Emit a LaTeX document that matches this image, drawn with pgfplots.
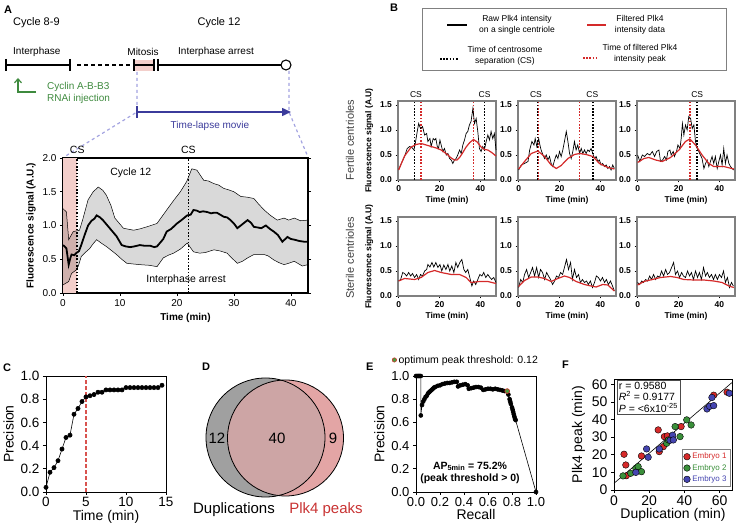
\documentclass[border=0pt]{standalone}
\usepackage{fontspec}
\setmainfont{Liberation Sans}
\usepackage{pgfplots}
\pgfplotsset{compat=1.18}
\usetikzlibrary{arrows.meta}
\definecolor{apink}{HTML}{F3CFCB}
\definecolor{lav}{HTML}{A3A3E0}
\definecolor{ablue}{HTML}{3B3B9B}
\definecolor{agreen}{HTML}{3E8A3E}
\definecolor{bred}{HTML}{D42A2A}
\definecolor{cred}{HTML}{D9534F}
\definecolor{vgrey}{HTML}{A0A0A0}
\definecolor{vpink}{HTML}{E3A5A5}
\definecolor{vover}{HTML}{CDA5A5}
\definecolor{dred}{HTML}{C83232}
\definecolor{fred}{HTML}{D62A2A}
\definecolor{fgreen}{HTML}{3A8F3A}
\definecolor{fblue}{HTML}{4545B0}
\definecolor{optgreen}{HTML}{4E9A3E}
\newcommand{\fs}[2]{\fontsize{#1}{#2}\selectfont}
\tikzset{
  bdotk/.style={black, line width=1.6pt, dash pattern=on 1.6pt off 1.6pt},
  bdotr/.style={bred, line width=1.6pt, dash pattern=on 1.6pt off 1.6pt},
  braw/.style={black, line width=0.7pt},
  bfil/.style={bred, line width=1.2pt},
  csl/.style={font=\fs{8.5}{10}, anchor=south, inner sep=0pt, yshift=3pt},
}
\pgfplotsset{
  /pgf/number format/assume math mode=true,
  onedec/.style={yticklabel style={/pgf/number format/fixed,/pgf/number format/fixed zerofill,/pgf/number format/precision=1}},
  bplot/.style={scale only axis, anchor=south west, width=98pt, height=79pt,
    xmin=-0.3, xmax=47.6, ymin=0, ymax=1.58, xtick={0,20,40}, ytick={0,0.5,1,1.5},
    tick pos=left, tick align=outside, major tick length=2.5pt,
    axis line style={draw=gray, line width=1.3pt}, tick style={black, line width=0.8pt},
    ticklabel style={font=\bfseries\fs{8.5}{10}}, onedec,
    xlabel={Time (min)}, label style={font=\bfseries\fs{8.5}{10}},
    xlabel style={yshift=3pt}, clip=false},
  bigplot/.style={scale only axis, anchor=south west, tick pos=left, tick align=outside,
    major tick length=3pt, axis line style={line width=0.8pt}, tick style={black, line width=0.7pt},
    ticklabel style={font=\fs{13.5}{15}}, label style={font=\fs{14}{16}},
    xlabel style={yshift=4pt}, xticklabel style={yshift=1pt}, clip=false},
}
\begin{document}
\begin{tikzpicture}[x=1pt,y=1pt]
\useasboundingbox (0,0) rectangle (737,-526);
% ---------------- Panel A schematic
\node[anchor=west,inner sep=0,font=\bfseries\fs{11}{13}] at (4,-10) {A};
\node[anchor=west,inner sep=0,font=\fs{11}{13}] at (13,-23) {Cycle 8-9};
\node[inner sep=0,font=\fs{11}{13}] at (219,-23) {Cycle 12};
\node[anchor=west,inner sep=0,font=\fs{10}{12}] at (13,-52) {Interphase};
\node[inner sep=0,font=\fs{10}{12}] at (143,-52) {Mitosis};
\node[anchor=west,inner sep=0,font=\fs{10}{12}] at (178,-52) {Interphase arrest};
\fill[apink] (134,-60) rectangle (154,-71);
\draw[line width=1.1pt] (6,-65)--(70,-65) (6,-59)--(6,-71) (70,-59)--(70,-71);
\draw[line width=1.1pt, dash pattern=on 4pt off 3pt] (77,-65)--(132,-65);
\draw[line width=1.1pt] (134,-59)--(134,-71) (134,-65)--(154,-65) (154,-59)--(154,-71) (158,-59)--(158,-71) (158,-65)--(281,-65);
\draw[line width=1.1pt, fill=white] (286,-65) circle (5);
\draw[lav, line width=1.2pt, dash pattern=on 3pt off 3pt] (137,-72)--(137,-112)--(64,-157);
\draw[lav, line width=1.2pt, dash pattern=on 3pt off 3pt] (289,-71)--(289,-112)--(308,-157);
\draw[ablue, line width=1.5pt] (137,-106)--(137,-118);
\draw[ablue, line width=1.5pt, -{Triangle[length=9pt,width=8pt]}] (137,-112)--(291,-112);
\node[ablue,inner sep=0,font=\fs{10}{12}] at (210,-126) {Time-lapse movie};
\draw[agreen, line width=1.2pt, -{Straight Barb[length=4pt,width=7pt]}] (36,-92)--(18,-92)--(18,-78);
\node[agreen, anchor=west, inner sep=0, font=\fs{10}{12}] at (47,-87) {Cyclin A-B-B3};
\node[agreen, anchor=west, inner sep=0, font=\fs{10}{12}] at (47,-99) {RNAi injection};
% ---------------- Panel A plot
\begin{axis}[at={(63pt,-293pt)}, anchor=south west, scale only axis, width=245pt, height=135pt,
  xmin=0, xmax=43, ymin=0, ymax=2, xtick={0,10,20,30,40}, ytick={0,0.5,1,1.5,2},
  xtick pos=left, ytick pos=both, yticklabel pos=left, tick align=outside, major tick length=3pt,
  axis line style={line width=1.1pt}, tick style={black, line width=0.8pt},
  ticklabel style={font=\fs{10}{12}}, onedec,
  xlabel={Time (min)}, ylabel={Fluorescence signal (A.U.)},
  label style={font=\bfseries\fs{10}{12}}, clip=false]
\addplot[draw=none, fill=apink] coordinates {(0,0) (2.5,0) (2.5,2) (0,2)} --cycle;
\addplot[draw=none, fill=black, fill opacity=0.15] coordinates {
(0,1.25) (0.6,1.2) (1,0.79) (1.8,0.91) (2.9,0.93) (3.5,1.1) (4.4,1.38) (5.3,1.5) (6.2,1.57) (7,1.52) (7.6,1.45) (8.4,1.3) (9.1,1.11) (10.6,0.96) (12.4,0.93) (13.5,0.95) (14.7,0.98) (16.5,1.03) (18.2,1.23) (19.5,1.38) (20.6,1.5) (21.7,1.65) (22.6,1.84) (23.5,1.82) (24.7,1.67) (25.5,1.66) (26.5,1.62) (27.3,1.6) (28.2,1.55) (29,1.53) (30,1.5) (31.2,1.43) (32.3,1.42) (33.5,1.4) (34.3,1.32) (35.3,1.23) (36.4,1.15) (37.6,1.08) (38.8,1.11) (39.6,1.08) (40.6,1.11) (41.7,1.07) (43,1.08)
(43,0.42) (42,0.4) (40.6,0.47) (39.6,0.44) (38.8,0.42) (37.9,0.45) (37,0.49) (36,0.55) (35.3,0.57) (33.5,0.57) (32.4,0.52) (31.5,0.47) (30.6,0.44) (29.6,0.52) (28.8,0.59) (27.7,0.62) (26.5,0.64) (25,0.6) (24,0.59) (22.9,0.61) (21.8,0.74) (20.6,0.65) (19.4,0.59) (18.5,0.56) (17.6,0.52) (16.5,0.39) (15.2,0.41) (13.5,0.42) (12.3,0.43) (11.2,0.44) (10.3,0.5) (9.4,0.57) (8.5,0.63) (7.6,0.69) (6.7,0.74) (5.9,0.79) (5.2,0.72) (4.7,0.66) (3.9,0.6) (3.2,0.54) (2.7,0.4) (2.3,0.34) (1.5,0.29) (1,0.17) (0.6,0.15) (0,0.12)} --cycle;
\addplot[black, line width=0.5pt] coordinates {
(0,1.25) (0.6,1.2) (1,0.79) (1.8,0.91) (2.9,0.93) (3.5,1.1) (4.4,1.38) (5.3,1.5) (6.2,1.57) (7,1.52) (7.6,1.45) (8.4,1.3) (9.1,1.11) (10.6,0.96) (12.4,0.93) (13.5,0.95) (14.7,0.98) (16.5,1.03) (18.2,1.23) (19.5,1.38) (20.6,1.5) (21.7,1.65) (22.6,1.84) (23.5,1.82) (24.7,1.67) (25.5,1.66) (26.5,1.62) (27.3,1.6) (28.2,1.55) (29,1.53) (30,1.5) (31.2,1.43) (32.3,1.42) (33.5,1.4) (34.3,1.32) (35.3,1.23) (36.4,1.15) (37.6,1.08) (38.8,1.11) (39.6,1.08) (40.6,1.11) (41.7,1.07) (43,1.08)};
\addplot[black, line width=0.5pt] coordinates {
(43,0.42) (42,0.4) (40.6,0.47) (39.6,0.44) (38.8,0.42) (37.9,0.45) (37,0.49) (36,0.55) (35.3,0.57) (33.5,0.57) (32.4,0.52) (31.5,0.47) (30.6,0.44) (29.6,0.52) (28.8,0.59) (27.7,0.62) (26.5,0.64) (25,0.6) (24,0.59) (22.9,0.61) (21.8,0.74) (20.6,0.65) (19.4,0.59) (18.5,0.56) (17.6,0.52) (16.5,0.39) (15.2,0.41) (13.5,0.42) (12.3,0.43) (11.2,0.44) (10.3,0.5) (9.4,0.57) (8.5,0.63) (7.6,0.69) (6.7,0.74) (5.9,0.79) (5.2,0.72) (4.7,0.66) (3.9,0.6) (3.2,0.54) (2.7,0.4) (2.3,0.34) (1.5,0.29) (1,0.17) (0.6,0.15) (0,0.12)};
\addplot[black, line width=1.8pt] coordinates {
(0,0.71) (0.4,0.68) (0.6,0.66) (1,0.42) (1.3,0.52) (1.5,0.57) (2,0.56) (2.3,0.59) (2.8,0.62) (3.2,0.71) (3.8,0.86) (4.4,1) (5,1.07) (5.5,1.1) (5.9,1.15) (6.5,1.12) (7,1.08) (7.6,1.02) (8.2,0.96) (8.8,0.9) (9.4,0.84) (10.3,0.71) (11,0.69) (11.8,0.68) (12.5,0.69) (13.5,0.71) (14.3,0.7) (15.3,0.7) (16,0.68) (16.5,0.69) (17,0.74) (17.6,0.8) (18.2,0.91) (19,0.95) (20,1.03) (20.8,1.08) (21.8,1.15) (22.4,1.16) (22.9,1.23) (23.5,1.22) (24,1.2) (24.6,1.21) (25.3,1.2) (26,1.18) (26.5,1.19) (27,1.19) (27.6,1.16) (28.2,1.13) (28.8,1.12) (29.4,1.08) (30,1.03) (30.6,0.96) (31.2,1) (31.8,1.04) (32.4,1.08) (33,1.04) (33.5,0.98) (34.2,0.97) (34.8,0.96) (35.6,1) (36.3,0.95) (37,0.91) (37.7,0.86) (38.5,0.76) (39.4,0.83) (40,0.8) (40.6,0.79) (41.5,0.77) (42.3,0.76) (43,0.76)};
\addplot[black, line width=1.5pt, dash pattern=on 1.5pt off 1.8pt] coordinates {(2.5,0) (2.5,2)};
\addplot[black, line width=1.5pt, dash pattern=on 1.5pt off 1.8pt] coordinates {(22,0) (22,2)};
\node[font=\fs{10.5}{12}, anchor=south, inner sep=0pt, yshift=4pt] at (axis cs:2.5,2) {CS};
\node[font=\fs{10.5}{12}, anchor=south, inner sep=0pt, yshift=4pt] at (axis cs:22,2) {CS};
\node[font=\fs{10.5}{12}] at (axis cs:11.9,1.78) {Cycle 12};
\node[font=\fs{10.5}{12}] at (axis cs:21.6,0.19) {Interphase arrest};
\end{axis}
% ---------------- Panel B legend
\node[anchor=west,inner sep=0,font=\bfseries\fs{11}{13}] at (390,-8) {B};
\draw[gray, line width=0.8pt] (422,-8) rectangle (726,-70);
\draw[black, line width=1.3pt] (447,-25)--(467,-25);
\node[align=center, inner sep=0, font=\fs{8.5}{10.5}] at (517,-25) {Raw Plk4 intensity\\on a single centriole};
\draw[bred, line width=1.3pt] (587,-25)--(606,-25);
\node[align=center, inner sep=0, font=\fs{8.5}{10.5}] at (640,-25) {Filtered Plk4\\intensity data};
\draw[bdotk] (440,-59)--(459,-59);
\node[align=center, inner sep=0, font=\fs{8.5}{10.5}] at (505,-56) {Time of centrosome\\separation (CS)};
\draw[bdotr] (583,-58)--(598,-58);
\node[align=center, inner sep=0, font=\fs{8.5}{10.5}] at (640,-54) {Time of filtered Plk4\\intensity peak};
\node[rotate=90, font=\fs{11}{13}, text=black!75] at (350,-140) {Fertile centrioles};
\node[rotate=90, font=\fs{11}{13}, text=black!75] at (350,-258) {Sterile centrioles};
% B1
\begin{axis}[bplot, at={(398pt,-180pt)}, ylabel={Fluorescence signal (A.U)}]
\addplot[bdotk] coordinates {(7.8,0) (7.8,1.58)};
\addplot[bdotk] coordinates {(42,0) (42,1.58)};
\addplot[bdotr] coordinates {(11,0) (11,1.58)};
\addplot[bdotr] coordinates {(36.6,0) (36.6,1.58)};
\addplot[braw] coordinates {(0,0.2)(1.3,0.33)(2.9,0.47)(4.2,0.63)(5.4,0.67)(6.5,0.65)(7.5,0.6)(8.3,0.77)(9.1,0.97)(9.8,1.13)(10.7,1.03)(11.7,1.07)(12.7,0.9)(13.7,0.93)(14.3,0.77)(15.3,0.83)(15.9,0.67)(16.9,0.83)(17.6,0.8)(18.2,0.83)(18.9,0.67)(19.5,0.63)(20.2,0.8)(20.8,0.7)(21.6,0.57)(22.4,0.63)(23.3,0.5)(24.1,0.53)(24.9,0.43)(25.7,0.4)(26.5,0.33)(27.3,0.4)(28.1,0.43)(28.9,0.5)(29.8,0.6)(30.6,0.53)(31.4,0.7)(32.2,0.8)(33,0.93)(33.8,0.97)(34.6,1.1)(35.4,1.17)(36.3,1.43)(37.1,1.13)(37.9,1.23)(38.7,0.97)(39.5,0.63)(40.3,0.57)(41.1,0.67)(41.9,0.6)(42.8,0.77)(43.6,0.9)(44.4,0.8)(45.2,0.97)(46,0.83)(46.8,0.93)(47.6,0.6)};
\addplot[bfil] coordinates {(0,0.2)(2.9,0.48)(6.2,0.66)(8.5,0.71)(11,0.73)(13.5,0.7)(15.9,0.67)(18.4,0.64)(20.8,0.6)(22.5,0.55)(24.1,0.5)(25.7,0.44)(27.3,0.4)(28.5,0.4)(29.8,0.45)(31.4,0.55)(33,0.66)(34.8,0.75)(36.6,0.81)(38.4,0.76)(40.3,0.66)(42,0.61)(43.6,0.6)(45.5,0.55)(47.6,0.48)};
\node[csl] at (axis cs:8.5,1.58) {CS};
\node[csl] at (axis cs:42,1.58) {CS};
\end{axis}
% B2
\begin{axis}[bplot, at={(518pt,-180pt)}]
\addplot[bdotk] coordinates {(9.2,0) (9.2,1.58)};
\addplot[bdotk] coordinates {(36.3,0) (36.3,1.58)};
\addplot[bdotr] coordinates {(9.8,0) (9.8,1.58)};
\addplot[bdotr] coordinates {(29.8,0) (29.8,1.58)};
\addplot[braw] coordinates {(0,0.2)(1.3,0.3)(2.9,0.33)(4.6,0.37)(5.4,0.6)(6.5,0.77)(7.5,0.7)(8.1,0.83)(8.9,0.67)(9.8,0.83)(10.4,0.7)(11,0.6)(11.9,0.5)(12.7,0.43)(13.5,0.5)(14.3,0.4)(15.1,0.47)(15.9,0.33)(16.7,0.27)(17.6,0.4)(18.4,0.5)(19.2,0.43)(20,0.57)(20.8,0.47)(21.6,0.6)(22.4,0.77)(23.3,0.97)(24.1,0.77)(24.9,0.53)(25.7,0.43)(26.5,0.57)(27.3,0.77)(28.1,0.6)(28.9,0.7)(29.8,0.53)(30.6,0.63)(31.4,0.53)(32.2,0.6)(33,0.53)(33.8,0.6)(34.6,0.57)(35.4,0.63)(36.3,0.53)(37.1,0.43)(37.9,0.47)(38.7,0.37)(39.5,0.4)(40.3,0.3)(41.1,0.33)(41.9,0.27)(42.8,0.3)(43.6,0.23)(44.4,0.27)(45.2,0.2)(46,0.3)(46.8,0.23)};
\addplot[bfil] coordinates {(0,0.22)(2.9,0.37)(6.2,0.53)(9.4,0.58)(12.7,0.47)(15.9,0.3)(18.4,0.23)(20.8,0.29)(24.1,0.43)(27.3,0.51)(29.8,0.53)(33,0.51)(36.3,0.47)(39.5,0.33)(43.6,0.25)(46.8,0.22)};
\node[csl] at (axis cs:8.5,1.58) {CS};
\node[csl] at (axis cs:36,1.58) {CS};
\end{axis}
% B3
\begin{axis}[bplot, at={(637pt,-180pt)}]
\addplot[bdotk] coordinates {(29.1,0) (29.1,1.58)};
\addplot[bdotr] coordinates {(25.5,0) (25.5,1.58)};
\addplot[braw] coordinates {(0,0.5)(1.1,0.37)(2.3,0.5)(3.4,0.47)(4.7,0.53)(6,0.5)(7.2,0.57)(8.3,0.47)(9.3,0.57)(10.4,0.6)(11.2,0.37)(12.2,0.4)(13.2,0.47)(14.1,0.4)(14.8,0.57)(15.8,0.6)(16.4,0.5)(17.4,0.57)(18,0.47)(19,0.57)(19.7,0.7)(20.7,0.63)(21.3,0.83)(21.9,1.13)(22.6,0.9)(23.4,1.1)(24.2,1)(25,1.27)(25.9,1.23)(26.7,1.03)(27.5,1.1)(28.3,0.77)(29.1,0.63)(29.9,0.57)(30.7,0.5)(31.5,0.43)(32.4,0.23)(33.2,0.33)(34,0.4)(34.8,0.27)(35.6,0.37)(36.4,0.47)(37.2,0.33)(38,0.47)(38.9,0.23)(39.7,0.37)(40.5,0.5)(41.3,0.3)(42.1,0.63)(42.9,0.33)(43.7,0.5)(44.6,0.33)(45.4,0.27)(46.2,0.23)(47,0.2)};
\addplot[bfil] coordinates {(0,0.35)(3.1,0.43)(5.5,0.45)(8.8,0.4)(12,0.37)(16.1,0.45)(20.2,0.6)(23.4,0.77)(25.5,0.82)(28.3,0.7)(31.5,0.5)(34.8,0.33)(37.2,0.27)(42.1,0.27)(47,0.22)};
\node[csl] at (axis cs:29.1,1.58) {CS};
\end{axis}
% B4
\begin{axis}[bplot, at={(398pt,-296pt)}, ylabel={Fluorescence signal (A.U)}]
\addplot[braw] coordinates {(0,0.3)(1,0.33)(2,0.47)(2.9,0.45)(3.9,0.4)(4.9,0.47)(5.9,0.4)(6.8,0.45)(7.8,0.37)(8.8,0.43)(9.8,0.33)(10.7,0.43)(11.7,0.4)(12.7,0.5)(13.7,0.53)(14.3,0.63)(15.3,0.58)(16.3,0.67)(17.2,0.58)(18.2,0.67)(19.2,0.57)(20.2,0.63)(21.1,0.5)(22.1,0.62)(23.1,0.53)(24.1,0.63)(25,0.5)(26,0.6)(27,0.47)(28,0.67)(28.9,0.57)(29.9,0.67)(30.9,0.73)(31.9,0.53)(32.8,0.47)(33.8,0.53)(34.8,0.37)(35.8,0.2)(36.7,0.3)(37.7,0.23)(38.7,0.33)(39.7,0.43)(40.7,0.4)(41.6,0.47)(42.6,0.37)(43.6,0.43)(44.6,0.37)(45.5,0.33)(46.5,0.37)(47.6,0.27)};
\addplot[bfil] coordinates {(0,0.3)(2.9,0.35)(7.8,0.33)(11,0.37)(14.3,0.47)(17.6,0.51)(20.8,0.47)(25.7,0.43)(29.8,0.43)(33,0.37)(35.4,0.27)(39.5,0.29)(43.6,0.29)(47.6,0.25)};
\end{axis}
% B5
\begin{axis}[bplot, at={(518pt,-296pt)}]
\addplot[braw] coordinates {(0,0.17)(1,0.33)(2,0.27)(2.9,0.43)(3.9,0.53)(4.9,0.37)(5.9,0.47)(6.8,0.57)(7.8,0.4)(8.8,0.57)(9.8,0.37)(10.7,0.53)(11.7,0.47)(12.7,0.33)(13.7,0.47)(14.6,0.4)(15.6,0.33)(16.6,0.23)(17.6,0.3)(18.5,0.4)(19.5,0.37)(20.5,0.47)(21.5,0.43)(22.4,0.57)(23.4,0.73)(24.4,0.53)(25.4,0.67)(26.3,0.33)(27.3,0.53)(28.3,0.37)(29.3,0.43)(30.2,0.27)(31.2,0.33)(32.2,0.27)(33.2,0.3)(34.1,0.23)(35.1,0.3)(36.1,0.17)(37.1,0.27)(38,0.4)(39,0.37)(40,0.3)(41,0.37)(42,0.27)(42.9,0.33)(43.9,0.23)(44.9,0.3)(45.9,0.2)(46.8,0.1)};
\addplot[bfil] coordinates {(0,0.19)(2.9,0.31)(6.2,0.38)(9.4,0.38)(12.7,0.35)(15.9,0.29)(19.2,0.35)(22.4,0.4)(24.9,0.37)(28.1,0.29)(32.2,0.23)(35.4,0.2)(37.9,0.18)(41.1,0.23)(43.6,0.22)(46.8,0.1)};
\end{axis}
% B6
\begin{axis}[bplot, at={(637pt,-296pt)}]
\addplot[braw] coordinates {(0,0.27)(1,0.23)(2,0.3)(2.9,0.27)(3.9,0.33)(4.9,0.3)(5.9,0.4)(6.8,0.33)(7.8,0.43)(8.8,0.33)(9.8,0.4)(10.7,0.37)(11.7,0.5)(12.7,0.4)(13.7,0.53)(14.6,0.43)(15.6,0.47)(16.6,0.57)(17.6,0.67)(18.5,0.43)(19.5,0.5)(20.5,0.37)(21.5,0.47)(22.4,0.4)(23.4,0.37)(24.4,0.5)(25.4,0.4)(26.3,0.47)(27.3,0.33)(28.3,0.5)(29.3,0.37)(30.2,0.47)(31.2,0.33)(32.2,0.57)(33.2,0.4)(34.1,0.47)(35.1,0.37)(36.1,0.43)(37.1,0.33)(38,0.43)(39,0.33)(40,0.43)(41,0.37)(42,0.5)(42.9,0.27)(43.9,0.37)(44.9,0.17)(45.9,0.27)(46.8,0.2)};
\addplot[bfil] coordinates {(0,0.22)(3.1,0.29)(7.2,0.33)(11.2,0.37)(16.1,0.39)(19.3,0.37)(22.6,0.33)(27.5,0.32)(32.4,0.32)(37.2,0.3)(41.3,0.27)(44.6,0.2)(47,0.17)};
\end{axis}
% ---------------- Panel C
\node[anchor=west,inner sep=0,font=\bfseries\fs{11}{13}] at (3,-368) {C};
\begin{axis}[bigplot, at={(46pt,-492pt)}, width=120pt, height=116pt,
  xmin=0, xmax=15, ymin=0, ymax=1, xtick={0,5,10,15}, ytick={0,0.2,0.4,0.6,0.8,1.0}, onedec,
  xlabel={Time (min)}, ylabel={Precision}]
\addplot[cred, line width=1.3pt, dash pattern=on 4pt off 2pt] coordinates {(5,0) (5,1)};
\addplot[black, line width=0.6pt, mark=*, mark size=2.1pt] coordinates {(0,0.04)(0.5,0.17)(1,0.21)(1.5,0.27)(2,0.37)(2.5,0.47)(3,0.49)(3.5,0.67)(4,0.72)(4.5,0.78)(5,0.82)(5.5,0.83)(6,0.84)(6.5,0.86)(7,0.86)(7.5,0.88)(8,0.88)(8.5,0.88)(9,0.88)(9.5,0.88)(10,0.9)(10.5,0.9)(11,0.9)(11.5,0.9)(12,0.9)(12.5,0.9)(13,0.9)(13.5,0.9)(14,0.9)(14.5,0.92)};
\end{axis}
% ---------------- Panel D
\node[anchor=west,inner sep=0,font=\bfseries\fs{11}{13}] at (202,-367) {D};
\begin{axis}[at={(190pt,-500pt)}, anchor=south west, scale only axis, width=170pt, height=125pt,
  xmin=190, xmax=360, ymin=-500, ymax=-375, hide axis, clip=false]
\fill[vgrey] (axis cs:265.5,-437.5) circle[radius=59.5];
\fill[vpink] (axis cs:285.5,-438) circle[radius=58];
\begin{scope}
\clip (axis cs:265.5,-437.5) circle[radius=59.5];
\fill[vover] (axis cs:285.5,-438) circle[radius=58];
\end{scope}
\draw[black, line width=0.8pt] (axis cs:265.5,-437.5) circle[radius=59.5];
\draw[black, line width=0.8pt] (axis cs:285.5,-438) circle[radius=58];
\node[font=\fs{15}{17}] at (axis cs:217,-438) {12};
\node[font=\fs{15}{17}] at (axis cs:277,-438) {40};
\node[font=\fs{15}{17}] at (axis cs:333,-438) {9};
\node[font=\fs{15}{17}] at (axis cs:234,-510) {Duplications};
\node[font=\fs{15}{17}, text=dred] at (axis cs:326,-510) {Plk4 peaks};
\end{axis}
% ---------------- Panel E
\node[anchor=west,inner sep=0,font=\bfseries\fs{11}{13}] at (366,-367) {E};
\begin{axis}[bigplot, at={(416pt,-492pt)}, width=120pt, height=116pt,
  xmin=0, xmax=1, ymin=0, ymax=1, xtick={0,0.2,0.4,0.6,0.8,1.0}, ytick={0,0.2,0.4,0.6,0.8,1.0}, onedec,
  ticklabel style={font=\fs{13}{15}},
  xticklabel style={/pgf/number format/fixed,/pgf/number format/fixed zerofill,/pgf/number format/precision=1},
  xlabel={Recall}, ylabel={Precision},
  legend style={at={(axis cs:-0.2,1.08)}, anchor=south west, draw=none, fill=none, font=\fs{10.5}{12}, inner sep=0pt},
  legend image code/.code={\draw[mark=*, mark size=2.2pt, mark options={fill=optgreen, draw=bred, line width=0.5pt}] plot coordinates {(0.1cm,0cm)};}]
\addplot[black, line width=0.6pt, mark=*, mark size=2pt, forget plot] coordinates {(0,1)(0.01,1)(0.02,1)(0.03,1)(0.04,1)(0.04,0.66)(0.05,0.75)(0.06,0.78)(0.07,0.8)(0.08,0.82)(0.09,0.83)(0.1,0.85)(0.11,0.86)(0.12,0.87)(0.13,0.88)(0.14,0.89)(0.15,0.9)(0.16,0.905)(0.18,0.915)(0.2,0.92)(0.22,0.93)(0.24,0.935)(0.26,0.94)(0.28,0.94)(0.3,0.945)(0.32,0.95)(0.34,0.95)(0.35,0.91)(0.37,0.92)(0.39,0.925)(0.41,0.93)(0.43,0.92)(0.44,0.89)(0.46,0.895)(0.48,0.9)(0.5,0.905)(0.52,0.905)(0.54,0.9)(0.56,0.88)(0.58,0.885)(0.6,0.89)(0.62,0.89)(0.64,0.885)(0.66,0.89)(0.68,0.885)(0.7,0.88)(0.72,0.875)(0.74,0.87)(0.76,0.87)(0.77,0.84)(0.78,0.8)(0.785,0.78)(0.79,0.76)(0.8,0.73)(0.805,0.71)(0.81,0.69)(0.815,0.67)(0.82,0.65)(0.825,0.63)(0.83,0.62)(1,0)};
\addplot[only marks, mark=*, mark size=2.4pt, mark options={fill=optgreen, draw=bred, line width=0.6pt}] coordinates {(0.76,0.87)};
\addlegendentry{optimum peak threshold: 0.12}
\node[font=\bfseries\fs{10.5}{12.5}, align=center] at (axis cs:0.45,0.165) {AP\textsubscript{5min} = 75.2\%\\(peak threshold > 0)};
\end{axis}
% ---------------- Panel F
\node[anchor=west,inner sep=0,font=\bfseries\fs{11}{13}] at (562,-365) {F};
\begin{axis}[bigplot, at={(614pt,-490pt)}, width=118pt, height=111pt,
  xmin=0, xmax=67, ymin=0, ymax=63, xtick={0,20,40,60}, ytick={0,10,20,30,40,50,60},
  ticklabel style={font=\fs{14}{16}},
  xlabel={Duplication (min)}, ylabel={Plk4 peak (min)},
  legend style={at={(rel axis cs:0.985,0.03)}, anchor=south east, draw=black!50, font=\fs{8}{9.5}, inner sep=1.5pt, row sep=0pt},
  legend cell align=left]
\addplot[black, line width=0.6pt, forget plot] coordinates {(0,3.8) (67,61)};
\addplot[only marks, mark=*, mark size=3.3pt, mark options={fill=fred, draw=black, line width=0.4pt}] coordinates {(5.7,20.3)(6.7,14.2)(7,8.1)(15.6,19.3)(25.1,34.1)(25.7,21.8)(28,24.6)(28.6,30.3)(30.3,30.7)(38.1,36)(56.6,53.8)(64.2,55.5)};
\addlegendentry{\textcolor{fred}{Embryo 1}}
\addplot[only marks, mark=*, mark size=3.3pt, mark options={fill=fgreen, draw=black, line width=0.4pt}] coordinates {(5.1,8)(9.5,9.5)(12.4,12.3)(13.7,13.3)(15.6,10.4)(29.9,26.5)(30.9,28.4)(34.7,36)(37.5,30.3)(41.3,39.8)(43.8,36.9)};
\addlegendentry{\textcolor{fgreen}{Embryo 2}}
\addplot[only marks, mark=*, mark size=3.3pt, mark options={fill=fblue, draw=black, line width=0.4pt}] coordinates {(12.4,10)(18.5,23.3)(19.4,18.6)(25.7,23.3)(31.8,28.2)(33.3,31.1)(33.7,28.4)(52.8,46)(54.3,47.5)(55.6,52.5)(56.6,47.9)(65.5,54.9)};
\addlegendentry{\textcolor{fblue}{Embryo 3}}
\node[draw=black!70, fill=white, anchor=north west, align=left, inner sep=2pt, font=\fs{10.5}{11.5}] at (axis cs:1.5,62.5) {r = 0.9580\\\textit{R}\textsuperscript{2} = 0.9177\\\textit{P} = <6x10\textsuperscript{-25}};
\end{axis}
\end{tikzpicture}
\end{document}
